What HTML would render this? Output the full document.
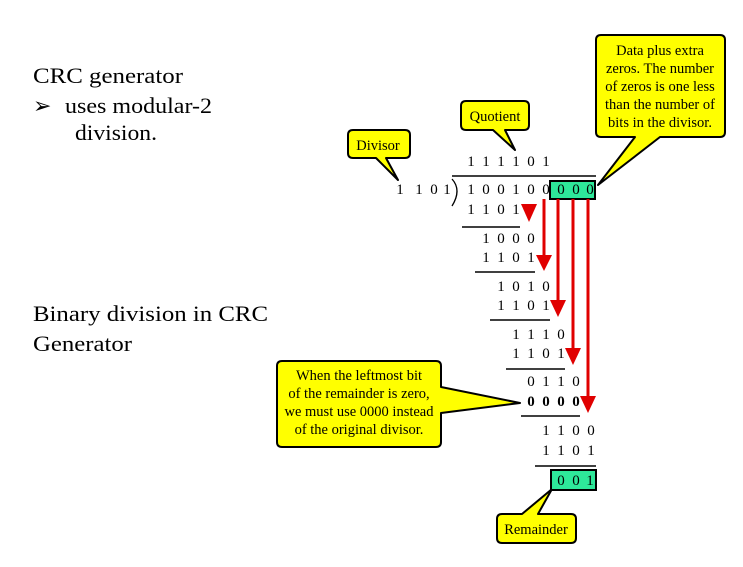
<!DOCTYPE html>
<html><head><meta charset="utf-8"><style>
html,body{margin:0;padding:0;background:#fff;}
svg{display:block}
.t{font-family:"Liberation Serif",serif;font-size:22px;fill:#000}
.d{font-family:"Liberation Serif",serif;font-size:15px;fill:#000;text-anchor:middle}
.c{font-family:"Liberation Serif",serif;font-size:14.5px;fill:#000;text-anchor:middle}
</style></head><body>
<svg width="743" height="567" viewBox="0 0 743 567" xmlns="http://www.w3.org/2000/svg">
<text class="t" x="33" y="83" textLength="150" lengthAdjust="spacingAndGlyphs">CRC generator</text>
<text class="t" x="33" y="113">➢</text>
<text class="t" x="65" y="113" textLength="147" lengthAdjust="spacingAndGlyphs">uses modular-2</text>
<text class="t" x="75" y="140" textLength="82" lengthAdjust="spacingAndGlyphs">division.</text>
<text class="t" x="33" y="321" textLength="235" lengthAdjust="spacingAndGlyphs">Binary division in CRC</text>
<text class="t" x="33" y="351" textLength="99" lengthAdjust="spacingAndGlyphs">Generator</text>

<g stroke="#000" stroke-width="2" fill="#ffff00" stroke-linejoin="round">
<path d="M353,130 H405 Q410,130 410,135 V153 Q410,158 405,158 H386 L398,180 L376,158 H353 Q348,158 348,153 V135 Q348,130 353,130 Z"/>
<path d="M466,101 H524 Q529,101 529,106 V125 Q529,130 524,130 H505 L515,150 L493,130 H466 Q461,130 461,125 V106 Q461,101 466,101 Z"/>
<path d="M601,35 H720 Q725,35 725,40 V132 Q725,137 720,137 H660 L598,185 L635,137 H601 Q596,137 596,132 V40 Q596,35 601,35 Z"/>
<path d="M282,361 H436 Q441,361 441,366 V387 L520,403 L441,413 V442 Q441,447 436,447 H282 Q277,447 277,442 V366 Q277,361 282,361 Z"/>
<path d="M502,514 H522 L552,489 L538,514 H571 Q576,514 576,519 V538 Q576,543 571,543 H502 Q497,543 497,538 V519 Q497,514 502,514 Z"/>
</g>
<text class="c" x="378" y="150">Divisor</text>
<text class="c" x="495" y="121">Quotient</text>
<text class="c" x="660" y="55">Data plus extra</text><text class="c" x="660" y="73">zeros.  The number</text><text class="c" x="660" y="91">of zeros is one less</text><text class="c" x="660" y="109">than the number of</text><text class="c" x="660" y="127">bits in the divisor.</text>
<text class="c" x="359" y="380">When the leftmost bit</text>
<text class="c" x="359" y="398">of the remainder is zero,</text>
<text class="c" x="359" y="416">we must use 0000 instead</text>
<text class="c" x="359" y="434">of the original divisor.</text>
<text class="c" x="536" y="534">Remainder</text>

<rect x="550" y="181" width="45" height="18" fill="#2ee89a" stroke="#000" stroke-width="2"/>
<rect x="551" y="470" width="45" height="20" fill="#2ee89a" stroke="#000" stroke-width="2"/>

<g stroke="#000" stroke-width="1.5">
<line x1="452" y1="176" x2="596" y2="176"/>
<line x1="462" y1="227" x2="520" y2="227"/>
<line x1="475" y1="272" x2="535" y2="272"/>
<line x1="490" y1="320" x2="550" y2="320"/>
<line x1="506" y1="369" x2="565" y2="369"/>
<line x1="521" y1="416" x2="580" y2="416"/>
<line x1="535" y1="466" x2="596" y2="466"/>
</g>
<path d="M452,179 Q462,190 452,206" stroke="#000" stroke-width="1.3" fill="none"/>

<g class="d" transform="translate(4,0)">
<text x="467" y="166">1</text><text x="482" y="166">1</text><text x="497" y="166">1</text><text x="512" y="166">1</text><text x="527" y="166">0</text><text x="542" y="166">1</text>
<text x="396" y="194">1</text><text x="415" y="194">1</text><text x="430" y="194">0</text><text x="443" y="194">1</text>
<text x="467" y="194">1</text><text x="482" y="194">0</text><text x="497" y="194">0</text><text x="512" y="194">1</text><text x="527" y="194">0</text><text x="542" y="194">0</text><text x="557" y="194">0</text><text x="572" y="194">0</text><text x="586" y="194">0</text>
<text x="467" y="214">1</text><text x="482" y="214">1</text><text x="497" y="214">0</text><text x="512" y="214">1</text>
<text x="482" y="243">1</text><text x="497" y="243">0</text><text x="512" y="243">0</text><text x="527" y="243">0</text>
<text x="482" y="262">1</text><text x="497" y="262">1</text><text x="512" y="262">0</text><text x="527" y="262">1</text>
<text x="497" y="291">1</text><text x="512" y="291">0</text><text x="527" y="291">1</text><text x="542" y="291">0</text>
<text x="497" y="310">1</text><text x="512" y="310">1</text><text x="527" y="310">0</text><text x="542" y="310">1</text>
<text x="512" y="339">1</text><text x="527" y="339">1</text><text x="542" y="339">1</text><text x="557" y="339">0</text>
<text x="512" y="358">1</text><text x="527" y="358">1</text><text x="542" y="358">0</text><text x="557" y="358">1</text>
<text x="527" y="386">0</text><text x="542" y="386">1</text><text x="557" y="386">1</text><text x="572" y="386">0</text>
<g font-weight="bold"><text x="527" y="406">0</text><text x="542" y="406">0</text><text x="557" y="406">0</text><text x="572" y="406">0</text></g>
<text x="542" y="435">1</text><text x="557" y="435">1</text><text x="572" y="435">0</text><text x="587" y="435">0</text>
<text x="542" y="455">1</text><text x="557" y="455">1</text><text x="572" y="455">0</text><text x="587" y="455">1</text>
<text x="557" y="485">0</text><text x="572" y="485">0</text><text x="586" y="485">1</text>
</g>

<g stroke="#e00000" stroke-width="3" fill="none">
<line x1="544" y1="199" x2="544" y2="258"/>
<line x1="558" y1="199" x2="558" y2="304"/>
<line x1="573" y1="199" x2="573" y2="352"/>
<line x1="588" y1="199" x2="588" y2="400"/>
</g>
<g fill="#e00000">
<polygon points="521,204 537,204 529,222"/>
<polygon points="536,255 552,255 544,271"/>
<polygon points="550,300 566,300 558,317"/>
<polygon points="565,348 581,348 573,365"/>
<polygon points="580,396 596,396 588,413"/>
</g>
</svg>
</body></html>
